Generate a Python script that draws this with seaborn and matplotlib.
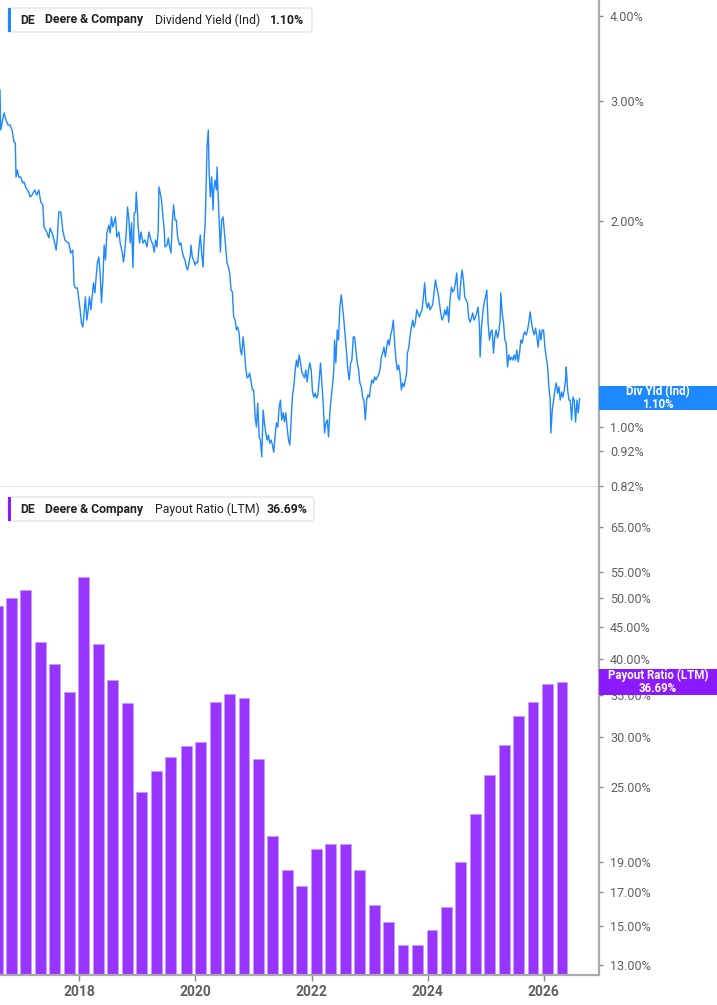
import numpy as np
import pandas as pd
import matplotlib
matplotlib.use("Agg")
import matplotlib.pyplot as plt
import seaborn as sns
from matplotlib.patches import FancyBboxPatch, Rectangle
from matplotlib.ticker import FixedLocator, NullLocator

sns.set_theme(style="white")
plt.rcParams['font.family'] = ['Roboto', 'DejaVu Sans']

# ---------------- data ----------------
# Dividend yield (Ind), % : (decimal year, value)
yield_series = [
    (2016.631, 3.115), (2016.643, 2.722), (2016.700, 2.883), (2016.735, 2.815), (2016.769, 2.768),
    (2016.804, 2.768), (2016.838, 2.722), (2016.873, 2.614), (2016.895, 2.605), (2016.907, 2.323),
    (2016.930, 2.378), (2016.954, 2.323), (2016.988, 2.323), (2017.023, 2.276), (2017.045, 2.284),
    (2017.080, 2.238), (2017.126, 2.208), (2017.149, 2.171), (2017.183, 2.186), (2017.230, 2.223),
    (2017.265, 2.186), (2017.299, 2.223), (2017.334, 2.135), (2017.368, 2.114), (2017.391, 1.961),
    (2017.437, 1.929), (2017.472, 1.891), (2017.494, 1.955), (2017.529, 1.923), (2017.563, 1.878),
    (2017.598, 1.815), (2017.620, 1.897), (2017.644, 2.064), (2017.679, 2.064), (2017.713, 1.942),
    (2017.748, 1.878), (2017.782, 1.865), (2017.817, 1.859), (2017.851, 1.797), (2017.886, 1.815),
    (2017.908, 1.613), (2017.931, 1.597), (2017.965, 1.597), (2017.990, 1.534), (2018.012, 1.483),
    (2018.034, 1.419), (2018.059, 1.400), (2018.081, 1.468), (2018.103, 1.550), (2018.128, 1.433),
    (2018.150, 1.483), (2018.173, 1.550), (2018.197, 1.483), (2018.219, 1.550), (2018.242, 1.625),
    (2018.266, 1.571), (2018.288, 1.658), (2018.311, 1.743), (2018.335, 1.773), (2018.357, 1.680),
    (2018.380, 1.519), (2018.404, 1.641), (2018.426, 1.846), (2018.449, 1.755), (2018.473, 1.923),
    (2018.507, 1.975), (2018.530, 1.923), (2018.552, 2.030), (2018.576, 1.961), (2018.599, 1.996),
    (2018.621, 2.030), (2018.645, 1.897), (2018.680, 1.929), (2018.702, 1.859), (2018.737, 1.803),
    (2018.759, 1.743), (2018.784, 1.815), (2018.806, 1.923), (2018.829, 2.099), (2018.853, 2.009),
    (2018.875, 1.859), (2018.898, 1.989), (2018.922, 1.709), (2018.944, 2.057), (2018.967, 2.064),
    (2018.979, 2.208), (2019.001, 2.057), (2019.013, 1.961), (2019.036, 1.859), (2019.060, 1.929),
    (2019.094, 1.859), (2019.129, 1.878), (2019.163, 1.834), (2019.198, 1.929), (2019.232, 1.878),
    (2019.267, 1.846), (2019.289, 1.803), (2019.312, 1.878), (2019.336, 1.834), (2019.358, 1.942),
    (2019.370, 2.246), (2019.393, 2.200), (2019.415, 2.149), (2019.439, 2.030), (2019.462, 1.942),
    (2019.474, 1.834), (2019.509, 1.846), (2019.531, 1.891), (2019.554, 1.834), (2019.578, 1.797),
    (2019.600, 1.989), (2019.623, 2.114), (2019.647, 2.009), (2019.669, 2.009), (2019.692, 1.897),
    (2019.726, 1.846), (2019.750, 1.859), (2019.773, 1.803), (2019.795, 1.773), (2019.819, 1.755),
    (2019.842, 1.714), (2019.864, 1.697), (2019.888, 1.738), (2019.911, 1.785), (2019.923, 1.846),
    (2019.945, 1.773), (2019.968, 1.755), (2019.992, 1.726), (2020.014, 1.743), (2020.037, 1.738),
    (2020.061, 1.834), (2020.083, 1.910), (2020.106, 1.797), (2020.130, 1.714), (2020.152, 1.910),
    (2020.164, 1.961), (2020.175, 2.099), (2020.199, 2.570), (2020.221, 2.722), (2020.234, 2.378),
    (2020.256, 2.171), (2020.279, 2.323), (2020.303, 2.078), (2020.313, 2.223), (2020.337, 2.299),
    (2020.360, 2.223), (2020.372, 2.402), (2020.394, 2.149), (2020.406, 2.009), (2020.429, 1.803),
    (2020.451, 2.009), (2020.475, 2.030), (2020.498, 1.923), (2020.520, 1.834), (2020.544, 1.738),
    (2020.567, 1.714), (2020.589, 1.680), (2020.613, 1.586), (2020.636, 1.576), (2020.658, 1.448),
    (2020.683, 1.433), (2020.705, 1.386), (2020.727, 1.400), (2020.751, 1.372), (2020.774, 1.295),
    (2020.796, 1.274), (2020.820, 1.354), (2020.843, 1.295), (2020.865, 1.219), (2020.890, 1.179),
    (2020.912, 1.183), (2020.934, 1.199), (2020.959, 1.163), (2020.981, 1.132), (2021.003, 1.132),
    (2021.028, 1.034), (2021.050, 0.999), (2021.073, 1.083), (2021.097, 0.966), (2021.119, 0.956),
    (2021.142, 0.903), (2021.166, 1.058), (2021.188, 1.013), (2021.211, 0.979), (2021.235, 0.956),
    (2021.257, 0.972), (2021.280, 0.946), (2021.304, 0.956), (2021.326, 0.940), (2021.349, 0.918),
    (2021.373, 0.972), (2021.395, 1.013), (2021.418, 0.999), (2021.442, 1.069), (2021.464, 1.094),
    (2021.487, 1.023), (2021.511, 1.048), (2021.533, 1.016), (2021.556, 1.048), (2021.580, 0.996),
    (2021.603, 0.956), (2021.625, 0.940), (2021.649, 1.023), (2021.672, 1.113), (2021.694, 1.144),
    (2021.718, 1.211), (2021.741, 1.252), (2021.763, 1.223), (2021.787, 1.274), (2021.810, 1.240),
    (2021.832, 1.203), (2021.856, 1.191), (2021.879, 1.179), (2021.901, 1.211), (2021.925, 1.163),
    (2021.948, 1.211), (2021.970, 1.240), (2021.994, 1.211), (2022.017, 1.124), (2022.039, 1.105),
    (2022.063, 1.120), (2022.086, 1.101), (2022.108, 1.113), (2022.132, 1.171), (2022.155, 1.240),
    (2022.177, 1.159), (2022.201, 1.083), (2022.224, 0.979), (2022.246, 1.013), (2022.271, 1.023),
    (2022.293, 0.966), (2022.315, 1.048), (2022.340, 1.105), (2022.362, 1.151), (2022.384, 1.211),
    (2022.397, 1.340), (2022.419, 1.240), (2022.443, 1.386), (2022.465, 1.340), (2022.488, 1.498),
    (2022.512, 1.560), (2022.535, 1.498), (2022.557, 1.433), (2022.581, 1.354), (2022.604, 1.282),
    (2022.626, 1.211), (2022.650, 1.171), (2022.673, 1.240), (2022.695, 1.252), (2022.719, 1.354),
    (2022.742, 1.354), (2022.764, 1.295), (2022.788, 1.240), (2022.811, 1.211), (2022.833, 1.159),
    (2022.858, 1.144), (2022.880, 1.105), (2022.902, 1.094), (2022.927, 1.023), (2022.949, 1.094),
    (2022.972, 1.113), (2022.996, 1.105), (2023.018, 1.144), (2023.041, 1.171), (2023.065, 1.159),
    (2023.087, 1.183), (2023.110, 1.171), (2023.134, 1.183), (2023.156, 1.191), (2023.179, 1.211),
    (2023.203, 1.265), (2023.225, 1.282), (2023.248, 1.308), (2023.272, 1.265), (2023.294, 1.308),
    (2023.317, 1.340), (2023.341, 1.317), (2023.363, 1.363), (2023.386, 1.386), (2023.410, 1.433),
    (2023.432, 1.326), (2023.455, 1.252), (2023.479, 1.211), (2023.501, 1.231), (2023.524, 1.199),
    (2023.548, 1.132), (2023.570, 1.159), (2023.593, 1.144), (2023.617, 1.171), (2023.639, 1.199),
    (2023.652, 1.282), (2023.674, 1.304), (2023.696, 1.354), (2023.721, 1.400), (2023.743, 1.433),
    (2023.765, 1.400), (2023.790, 1.423), (2023.812, 1.483), (2023.834, 1.468), (2023.859, 1.448),
    (2023.881, 1.468), (2023.904, 1.483), (2023.928, 1.550), (2023.950, 1.625), (2023.973, 1.519),
    (2023.997, 1.493), (2024.019, 1.519), (2024.042, 1.483), (2024.066, 1.498), (2024.088, 1.509),
    (2024.111, 1.571), (2024.135, 1.641), (2024.157, 1.602), (2024.180, 1.571), (2024.204, 1.519),
    (2024.226, 1.468), (2024.249, 1.433), (2024.273, 1.448), (2024.295, 1.483), (2024.318, 1.458),
    (2024.342, 1.498), (2024.364, 1.423), (2024.387, 1.534), (2024.411, 1.602), (2024.433, 1.576),
    (2024.456, 1.586), (2024.480, 1.625), (2024.502, 1.680), (2024.525, 1.550), (2024.549, 1.534),
    (2024.571, 1.625), (2024.594, 1.697), (2024.618, 1.641), (2024.640, 1.550), (2024.663, 1.534),
    (2024.687, 1.519), (2024.709, 1.443), (2024.732, 1.423), (2024.756, 1.443), (2024.778, 1.468),
    (2024.801, 1.433), (2024.825, 1.448), (2024.847, 1.468), (2024.870, 1.498), (2024.894, 1.400),
    (2024.905, 1.265), (2024.929, 1.400), (2024.951, 1.468), (2024.974, 1.519), (2024.998, 1.550),
    (2025.020, 1.586), (2025.043, 1.419), (2025.067, 1.340), (2025.089, 1.377), (2025.112, 1.386),
    (2025.136, 1.282), (2025.158, 1.354), (2025.181, 1.386), (2025.205, 1.349), (2025.227, 1.377),
    (2025.250, 1.433), (2025.262, 1.571), (2025.285, 1.468), (2025.309, 1.419), (2025.331, 1.340),
    (2025.354, 1.326), (2025.378, 1.223), (2025.400, 1.274), (2025.423, 1.252), (2025.447, 1.265),
    (2025.469, 1.252), (2025.492, 1.274), (2025.516, 1.252), (2025.538, 1.295), (2025.561, 1.244),
    (2025.585, 1.282), (2025.607, 1.340), (2025.630, 1.326), (2025.654, 1.363), (2025.676, 1.377),
    (2025.699, 1.363), (2025.723, 1.386), (2025.745, 1.423), (2025.768, 1.473), (2025.792, 1.419),
    (2025.814, 1.386), (2025.837, 1.363), (2025.861, 1.395), (2025.883, 1.354), (2025.906, 1.308),
    (2025.930, 1.386), (2025.952, 1.340), (2025.975, 1.386), (2025.999, 1.386), (2026.021, 1.308),
    (2026.044, 1.265), (2026.068, 1.223), (2026.090, 1.144), (2026.113, 1.094), (2026.125, 0.979),
    (2026.148, 1.058), (2026.172, 1.094), (2026.194, 1.132), (2026.217, 1.159), (2026.241, 1.120),
    (2026.263, 1.144), (2026.286, 1.094), (2026.310, 1.124), (2026.332, 1.105), (2026.355, 1.132),
    (2026.379, 1.171), (2026.389, 1.223), (2026.413, 1.132), (2026.436, 1.094), (2026.458, 1.094),
    (2026.482, 1.023), (2026.505, 1.105), (2026.527, 1.094), (2026.551, 1.016), (2026.574, 1.094),
    (2026.596, 1.048), (2026.620, 1.100),
]
yield_t = [p[0] for p in yield_series]
yield_v = [p[1] for p in yield_series]

# Payout ratio (LTM), %, at fiscal quarter ends
payout_dates = [
    "2016-07-31", "2016-10-30", "2017-01-29", "2017-04-30", "2017-07-30", "2017-10-29",
    "2018-01-28", "2018-04-29", "2018-07-29", "2018-10-28", "2019-01-27", "2019-04-28",
    "2019-07-28", "2019-11-03", "2020-02-02", "2020-05-03", "2020-08-02", "2020-11-01",
    "2021-01-31", "2021-05-02", "2021-08-01", "2021-10-31", "2022-01-30", "2022-05-01",
    "2022-07-31", "2022-10-30", "2023-01-29", "2023-04-30", "2023-07-30", "2023-10-29",
    "2024-01-28", "2024-04-28", "2024-07-28", "2024-10-27", "2025-01-26", "2025-04-27",
    "2025-07-27", "2025-10-26", "2026-01-25", "2026-04-26",
]
payout_v = [
    48.5, 50.0, 51.5, 42.5, 39.3, 35.4, 54.0, 42.2, 37.0, 34.0,
    24.5, 26.5, 27.9, 29.0, 29.5, 34.2, 35.2, 34.7, 27.7, 20.9,
    18.4, 17.4, 19.9, 20.3, 20.3, 18.4, 16.2, 15.2, 14.0, 14.0,
    14.8, 16.1, 19.0, 22.6, 26.1, 29.2, 32.4, 34.2, 36.5, 36.69,
]

yield_ticks = [0.82, 0.92, 1.00, 2.00, 3.00, 4.00]
payout_ticks = [13, 15, 17, 19, 25, 30, 35, 40, 45, 50, 55, 65]
year_ticks = [2018, 2020, 2022, 2024, 2026]

# ---------------- styling ----------------
BLUE = "#1e88ff"
PURPLE = "#9933ff"
PURPLE_DARK = "#8c1aff"
AXIS_GRAY = "#ababab"
LABEL_GRAY = "#5f5f5f"

W, H = 717, 1005
fig = plt.figure(figsize=(W / 100, H / 100), dpi=100)
fig.patch.set_facecolor("white")

def fx(x):
    return x / W

def fy(y):
    return 1 - y / H

AX_RIGHT = 599
ax1 = fig.add_axes([0, fy(487), fx(AX_RIGHT), fy(0) - fy(487)])
ax2 = fig.add_axes([0, fy(975), fx(AX_RIGHT), fy(487) - fy(975)])

XMIN, XMAX = 2016.631, 2026.954

# --- top panel: dividend yield line ---
ax1.set_yscale("log")
sns.lineplot(x=yield_t, y=yield_v, ax=ax1, color=BLUE, linewidth=1.0,
             estimator=None, sort=False)
ax1.set_xlim(XMIN, XMAX)
ax1.set_ylim(0.8159, 4.221)

# --- bottom panel: payout ratio bars ---
d = pd.to_datetime(payout_dates)
bar_x = (d.year + (d.dayofyear - 0.5) / 365.25).to_numpy()
ax2.set_yscale("log")
sns.barplot(x=bar_x, y=payout_v, ax=ax2, native_scale=True, width=0.76,
            color=PURPLE, saturation=1, edgecolor="#c49bff", linewidth=0.5)
ax2.set_xlim(XMIN, XMAX)
ax2.set_ylim(12.53, 75.2)

def pct(v):
    return f"{v:.2f}%"

for ax, ticks in ((ax1, yield_ticks), (ax2, payout_ticks)):
    ax.set_facecolor("white")
    ax.yaxis.set_major_locator(FixedLocator(ticks))
    ax.yaxis.set_minor_locator(NullLocator())
    ax.set_yticklabels([pct(t) for t in ticks])
    ax.yaxis.tick_right()
    ax.tick_params(axis="y", which="major", right=True, left=False,
                   labelright=True, labelleft=False, length=3, width=1,
                   color="#888888", labelcolor=LABEL_GRAY, labelsize=9, pad=5)
    ax.tick_params(axis="y", which="minor", right=False, left=False)
    for s in ("left", "top"):
        ax.spines[s].set_visible(False)
    ax.spines["right"].set_color(AXIS_GRAY)
    ax.spines["right"].set_linewidth(1.6)
    ax.set_xlabel("")
    ax.set_ylabel("")
    ax.grid(False)

ax1.spines["bottom"].set_color("#dcdcdc")
ax1.spines["bottom"].set_linewidth(1.8)
ax1.set_xticks([])

ax2.spines["bottom"].set_color(AXIS_GRAY)
ax2.spines["bottom"].set_linewidth(1.6)
ax2.set_xticks(year_ticks)
ax2.set_xticklabels([str(y) for y in year_ticks])
ax2.tick_params(axis="x", which="major", bottom=True, length=4, width=1,
                color="#888888", labelcolor=LABEL_GRAY, labelsize=10, pad=3)
for lbl in ax2.get_xticklabels():
    lbl.set_fontweight("bold")
ax2.xaxis.set_minor_locator(NullLocator())

# --- legend boxes (top-left) ---
def legend_box(y_top, color, metric, value, right):
    h = 24
    box = FancyBboxPatch((fx(8), fy(y_top + h)), fx(right) - fx(8), fy(y_top) - fy(y_top + h),
                         boxstyle="round,pad=0,rounding_size=0.004",
                         transform=fig.transFigure, facecolor="white",
                         edgecolor="#e4e4e4", linewidth=1.0, zorder=10)
    fig.add_artist(box)
    fig.add_artist(Rectangle((fx(8), fy(y_top + h)), fx(11) - fx(8), fy(y_top) - fy(y_top + h),
                             transform=fig.transFigure, facecolor=color,
                             edgecolor="none", zorder=11))
    yc = fy(y_top + h / 2)
    kw = dict(transform=fig.transFigure, va="center", ha="left", fontsize=8.8,
              color="#222222", zorder=12)
    fig.text(fx(20), yc, "DE", fontweight="bold", **kw)
    fig.text(fx(45), yc, "Deere & Company", fontweight="bold", **kw)
    fig.text(fx(155), yc, metric, **kw)
    fig.text(fx(value[1]), yc, value[0], fontweight="bold", **kw)

legend_box(8, BLUE, "Dividend Yield (Ind)", ("1.10%", 270), 312)
legend_box(497, PURPLE_DARK, "Payout Ratio (LTM)", ("36.69%", 267), 314)

# --- right-side value flags ---
def flag(y_top, y_bot, color, text):
    fig.add_artist(Rectangle((fx(AX_RIGHT), fy(y_bot)), fx(W) - fx(AX_RIGHT), fy(y_top) - fy(y_bot),
                             transform=fig.transFigure, facecolor=color,
                             edgecolor="none", zorder=10))
    xc = fx((AX_RIGHT + W) / 2)
    fig.text(xc, fy((y_top + y_bot) / 2), text, transform=fig.transFigure,
             ha="center", va="center", fontsize=8.3, color="white",
             fontweight="bold", linespacing=0.95, zorder=11)

flag(386, 410, BLUE, "Div Yld (Ind)\n1.10%")
flag(669, 695, PURPLE_DARK, "Payout Ratio (LTM)\n36.69%")

fig.savefig("out.png", dpi=100, facecolor="white")
